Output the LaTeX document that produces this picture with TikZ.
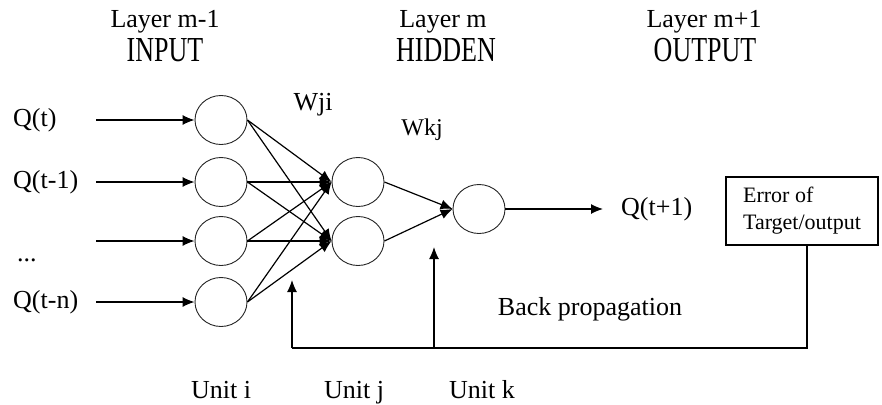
\documentclass[tikz,border=0pt]{standalone}
\usepackage{fontspec}
\usepackage{graphicx}
\setmainfont{Liberation Serif}
\usetikzlibrary{arrows.meta,shapes.geometric}
\begin{document}
\begin{tikzpicture}[x=1pt,y=-1pt,
  neuron/.style={ellipse,draw=black!85,line width=0.9pt,minimum width=52pt,minimum height=49pt,inner sep=0pt},
  link/.style={line width=1.2pt,-{Latex[length=12pt,width=10pt]}},
  wire/.style={line width=1.2pt},
  lbl/.style={inner sep=0pt,font=\fontsize{26}{30}\selectfont},
  small/.style={inner sep=0pt,font=\fontsize{24}{28}\selectfont},
  caps/.style={inner sep=0pt,anchor=base,font=\fontsize{26}{30}\selectfont},
  errbox/.style={draw,line width=1.2pt,align=left,inner xsep=16pt,inner ysep=0pt,
    minimum width=152pt,minimum height=68pt,font=\fontsize{22}{27}\selectfont}]
\useasboundingbox (0,0) rectangle (882,404);

% layer headings
\node[caps] (h1a) at (165,28) {Layer m-1};
\node[caps] (h1b) at (165,61) {\scalebox{1}[1.35]{INPUT}};
\node[caps] (h2a) at (443,28) {Layer m};
\node[caps] (h2b) at (446,61) {\scalebox{1}[1.35]{HIDDEN}};
\node[caps] (h3a) at (704,28) {Layer m+1};
\node[caps] (h3b) at (705,61) {\scalebox{1}[1.35]{OUTPUT}};

% neurons
\node[neuron] (i1) at (221,120) {};
\node[neuron] (i2) at (221,182) {};
\node[neuron] (i3) at (221,241) {};
\node[neuron] (i4) at (221,302) {};
\node[neuron] (j1) at (358,182) {};
\node[neuron] (j2) at (358,241) {};
\node[neuron] (k1) at (479,209) {};

% input labels and input arrows
\node[lbl,anchor=west] (q1) at (13,120) {Q(t)};
\node[lbl,anchor=west] (q2) at (13,182) {Q(t-1)};
\node[lbl,anchor=base west] (qd) at (17,261) {...};
\node[lbl,anchor=west] (q4) at (13,302) {Q(t-n)};
\coordinate (s1) at (96,120);
\coordinate (s2) at (96,182);
\coordinate (s3) at (96,241);
\coordinate (s4) at (96,302);
\draw[link] (s1) -- (i1.west);
\draw[link] (s2) -- (i2.west);
\draw[link] (s3) -- (i3.west);
\draw[link] (s4) -- (i4.west);

% input -> hidden
\foreach \a in {i1,i2,i3,i4}
  \foreach \b in {j1,j2}
    \draw[link] (\a.east) -- (\b.west);

% hidden -> output
\draw[link] (j1.east) -- (k1.west);
\draw[link] (j2.east) -- (k1.west);

% output
\node[lbl,anchor=west] (out) at (621,209) {Q(t+1)};
\coordinate (o1) at (603,209);
\draw[link] (k1.east) -- (o1);

% weights
\node[lbl,anchor=base] (wji) at (313,110) {Wji};
\node[small,anchor=base] (wkj) at (422,135) {Wkj};

% error and back propagation
\node[errbox] (err) at (802,211) {Error of\\Target/output};
\coordinate (b1) at (807,348);
\coordinate (b0) at (292,348);
\coordinate (bm) at (434,348);
\coordinate (t0) at (292,280);
\coordinate (tm) at (434,247);
\draw[wire] (err.south -| b1) -- (b1) -- (b0);
\draw[link] (b0) -- (t0);
\draw[link] (bm) -- (tm);
\node[lbl,anchor=base] (bp) at (590,315) {Back propagation};

% unit labels
\node[lbl,anchor=base] (ui) at (221,398) {Unit i};
\node[lbl,anchor=base] (uj) at (354,398) {Unit j};
\node[lbl,anchor=base] (uk) at (482,398) {Unit k};
\end{tikzpicture}
\end{document}
